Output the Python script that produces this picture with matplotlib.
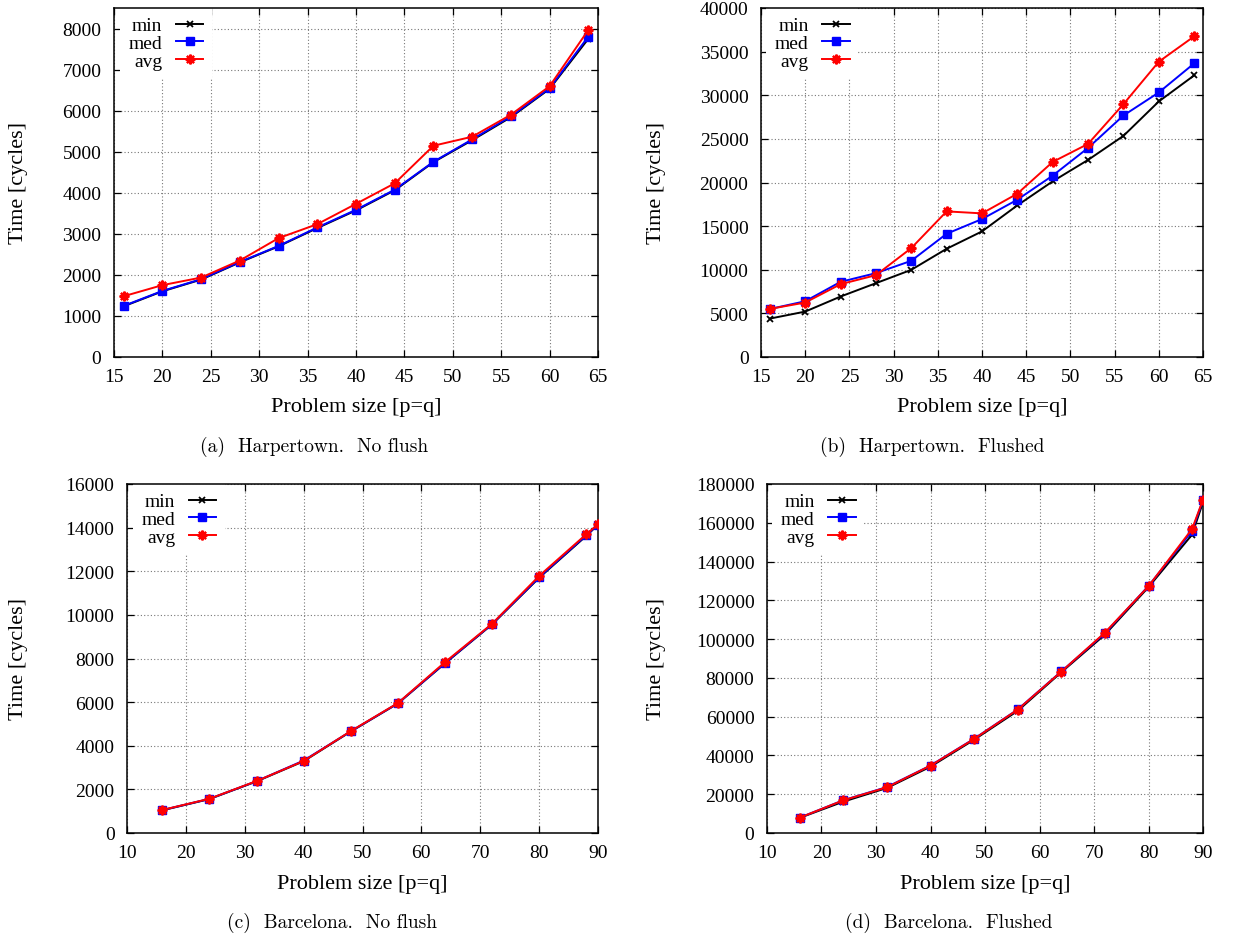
import matplotlib
matplotlib.use("Agg")
import matplotlib.pyplot as plt
import matplotlib.transforms as mtransforms
import numpy as np

# ---------------- data ----------------
# (a) Harpertown, no flush
harp_x = [16, 20, 24, 28, 32, 36, 40, 44, 48, 52, 56, 60, 64]
harp_nf_min = [1235, 1600, 1885, 2305, 2695, 3140, 3570, 4060, 4745, 5280, 5840, 6530, 7750]
harp_nf_med = [1245, 1610, 1895, 2315, 2705, 3155, 3585, 4075, 4755, 5300, 5860, 6545, 7805]
harp_nf_avg = [1480, 1750, 1935, 2350, 2895, 3235, 3730, 4230, 5145, 5365, 5900, 6595, 7965]
# (b) Harpertown, flushed
harp_fl_min = [4400, 5205, 6930, 8460, 9990, 12405, 14395, 17380, 20135, 22590, 25345, 29290, 32275]
harp_fl_med = [5500, 6390, 8615, 9610, 11025, 14125, 15810, 18030, 20790, 23965, 27680, 30320, 33650]
harp_fl_avg = [5515, 6240, 8345, 9380, 12480, 16690, 16460, 18720, 22360, 24425, 28980, 33845, 36750]
# (c) Barcelona, no flush
barc_x = [16, 24, 32, 40, 48, 56, 64, 72, 80, 88, 90]
barc_nf_min = [1040, 1555, 2365, 3290, 4650, 5935, 7775, 9560, 11700, 13620, 14130]
barc_nf_med = [1050, 1565, 2375, 3320, 4660, 5945, 7790, 9575, 11725, 13650, 14140]
barc_nf_avg = [1055, 1570, 2380, 3300, 4670, 5955, 7830, 9590, 11785, 13695, 14150]
# (d) Barcelona, flushed
barc_fl_min = [7800, 16160, 23200, 34200, 48100, 63000, 82900, 102300, 126800, 153900, 170600]
barc_fl_med = [7900, 16900, 23700, 34800, 48600, 63700, 83300, 103000, 127400, 155800, 171800]
barc_fl_avg = [7910, 16850, 23560, 34740, 48500, 63630, 83230, 103350, 127260, 156830, 171900]

series_labels = ["min", "med", "avg"]
xlabel = "Problem size [p=q]"
ylabel = "Time [cycles]"
captions = ["(a)  Harpertown.  No flush", "(b)  Harpertown.  Flushed",
            "(c)  Barcelona.  No flush", "(d)  Barcelona.  Flushed"]

# ---------------- figure ----------------
W, H = 1254, 937
fig = plt.figure(figsize=(W / 100, H / 100), dpi=100)
plt.rcParams["font.family"] = ["Liberation Serif", "DejaVu Serif"]

def fx(px):
    return px / W

def fy(py):
    return 1 - py / H

# axes rectangles in pixels: left, top, right, bottom
rects = [(114, 9, 598, 358), (761, 9, 1203, 358),
         (127, 485, 598, 834), (767, 485, 1203, 834)]

panels = [
    (harp_x, harp_nf_min, harp_nf_med, harp_nf_avg, (15, 65), np.arange(15, 66, 5), (0, 8500), np.arange(0, 8001, 1000)),
    (harp_x, harp_fl_min, harp_fl_med, harp_fl_avg, (15, 65), np.arange(15, 66, 5), (0, 40000), np.arange(0, 40001, 5000)),
    (barc_x, barc_nf_min, barc_nf_med, barc_nf_avg, (10, 90), np.arange(10, 91, 10), (0, 16000), np.arange(0, 16001, 2000)),
    (barc_x, barc_fl_min, barc_fl_med, barc_fl_avg, (10, 90), np.arange(10, 91, 10), (0, 180000), np.arange(0, 180001, 20000)),
]

ylabel_x = [19, 657, 19, 657]
xlabel_y = [408, 408, 885, 885]
caption_pos = [(314, 447), (932, 447), (332, 923), (949, 923)]

for i, ((l, t, r, b), (x, ymin, ymed, yavg, xl, xt, yl, yt)) in enumerate(zip(rects, panels)):
    ax = fig.add_axes([fx(l), fy(b), fx(r) - fx(l), fy(t) - fy(b)])
    ax.plot(x, ymin, color="black", lw=1.4, marker="x", ms=4.5, mew=1.3, label=series_labels[0], zorder=3)
    ax.plot(x, ymed, color="#0000ff", lw=1.4, marker="s", ms=5.5, label=series_labels[1], zorder=4)
    ax.plot(x, yavg, color="#ff0000", lw=1.4, marker=(8, 2, 0), ms=7, mew=1.6, label=series_labels[2], zorder=5)
    ax.set_xlim(*xl)
    ax.set_ylim(*yl)
    ax.set_xticks(xt)
    ax.set_yticks(yt)
    ax.grid(True, color="#777777", lw=0.8, linestyle=(0, (1, 2)))
    ax.set_axisbelow(True)
    ax.tick_params(direction="in", length=5, width=0.9, top=True, right=True, labelsize=14)
    ax.tick_params(axis="x", pad=8)
    ax.tick_params(axis="y", pad=9)
    for s in ax.spines.values():
        s.set_linewidth(1.1)
    ax.set_ylabel(ylabel, fontsize=16)
    ax.yaxis.set_label_coords(fx(ylabel_x[i]), 0.5,
                              transform=mtransforms.blended_transform_factory(fig.transFigure, ax.transAxes))
    ax.set_xlabel(xlabel, fontsize=16)
    ax.xaxis.set_label_coords(0.5, fy(xlabel_y[i]),
                              transform=mtransforms.blended_transform_factory(ax.transAxes, fig.transFigure))
    ax.xaxis.label.set_va("center")
    ax.yaxis.label.set_va("center")
    leg = ax.legend(loc="upper left", markerfirst=False, frameon=True, fancybox=False,
                    framealpha=1, edgecolor="none", facecolor="white", fontsize=14,
                    handlelength=1.4, handletextpad=0.7, labelspacing=0.0,
                    borderaxespad=0.0, borderpad=0.45,
                    bbox_to_anchor=(0.012, 1.0))
    leg.set_zorder(2)
    cx, cy = caption_pos[i]
    fig.text(fx(cx), fy(cy), captions[i], ha="center", va="center",
             fontsize=14, family=["cmr10", "DejaVu Serif"])

fig.savefig("out.png", dpi=100)
